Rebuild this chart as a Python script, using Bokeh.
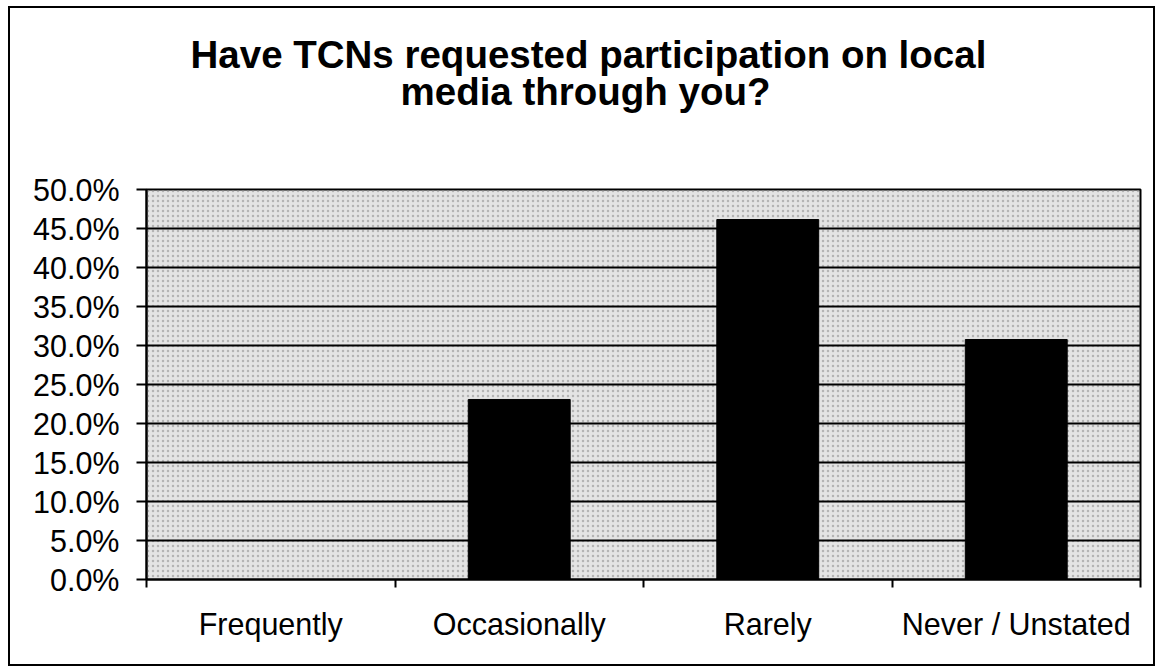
from bokeh.plotting import figure
from bokeh.models import (Range1d, FixedTicker, NumeralTickFormatter, Title, BoxAnnotation)
from bokeh.embed import file_html
from bokeh.resources import INLINE

# ---- data ----
categories = ["Frequently", "Occasionally", "Rarely", "Never / Unstated"]
shares = [0.0, 0.2308, 0.4615, 0.3077]
y_ticks = [0.0, 0.05, 0.10, 0.15, 0.20, 0.25, 0.30, 0.35, 0.40, 0.45, 0.50]
title_lines = ["Have TCNs requested participation on local", "media through you?"]

FONT = "Liberation Sans"

n = len(categories)
centers = [i + 0.5 for i in range(n)]

p = figure(width=1147, height=660, output_backend="svg", toolbar_location=None,
           x_range=Range1d(0, n), y_range=Range1d(0, 0.5),
           min_border_left=136, min_border_right=17, min_border_top=181,
           min_border_bottom=89, title=None)
p.styles = {"border": "2px solid black", "box-sizing": "border-box",
            "margin": "6px 0px 0px 8px"}

# stippled grey background
p.background_fill_color = "#e4e4e4"
p.add_layout(BoxAnnotation(level="image", fill_color=None, line_color=None,
                           hatch_pattern="dot", hatch_color="#8a8a8a",
                           hatch_scale=5, hatch_weight=1, hatch_alpha=0.55))
p.border_fill_color = "white"
p.outline_line_color = "black"
p.outline_line_width = 2

p.vbar(x=centers, top=shares, width=0.41, bottom=0, fill_color="black",
       line_color="black")

# titles (stacked upward from the frame: spacer, line 2, line 1)
spacer = Title(text=" ", text_font=FONT, text_font_size="1px", standoff=74)
t2 = Title(text=title_lines[1], align="left", offset=254, text_font=FONT,
           text_font_size="38.5px", text_font_style="bold", text_color="black",
           standoff=0)
t1 = Title(text=title_lines[0], align="left", offset=44, text_font=FONT,
           text_font_size="38.5px", text_font_style="bold", text_color="black",
           standoff=-16)
p.add_layout(spacer, "above")
p.add_layout(t2, "above")
p.add_layout(t1, "above")

# y axis
p.yaxis.ticker = FixedTicker(ticks=y_ticks)
p.yaxis.formatter = NumeralTickFormatter(format="0.0%")
p.yaxis.axis_line_width = 2
p.yaxis.axis_line_color = "black"
p.yaxis.major_tick_out = 10
p.yaxis.major_tick_in = 0
p.yaxis.major_tick_line_width = 2
p.yaxis.minor_tick_line_color = None
p.yaxis.major_label_text_font = FONT
p.yaxis.major_label_text_font_size = "30.5px"
p.yaxis.major_label_text_color = "black"
p.yaxis.major_label_standoff = 17

# x axis: labels at centres, ticks at boundaries
p.xaxis.ticker = FixedTicker(ticks=centers, minor_ticks=list(range(n + 1)))
p.xaxis.major_label_overrides = {c: cat for c, cat in zip(centers, categories)}
p.xaxis.major_tick_line_color = None
p.xaxis.minor_tick_out = 8
p.xaxis.minor_tick_in = 0
p.xaxis.minor_tick_line_width = 2
p.xaxis.minor_tick_line_color = "black"
p.xaxis.axis_line_width = 2
p.xaxis.axis_line_color = "black"
p.xaxis.major_label_text_font = FONT
p.xaxis.major_label_text_font_size = "30.5px"
p.xaxis.major_label_text_color = "black"
p.xaxis.major_label_standoff = 19

p.xgrid.grid_line_color = None
p.ygrid.ticker = FixedTicker(ticks=y_ticks)
p.ygrid.grid_line_color = "black"
p.ygrid.grid_line_width = 2
p.ygrid.grid_line_alpha = 1.0

open("out.html", "w").write(file_html(p, INLINE))
